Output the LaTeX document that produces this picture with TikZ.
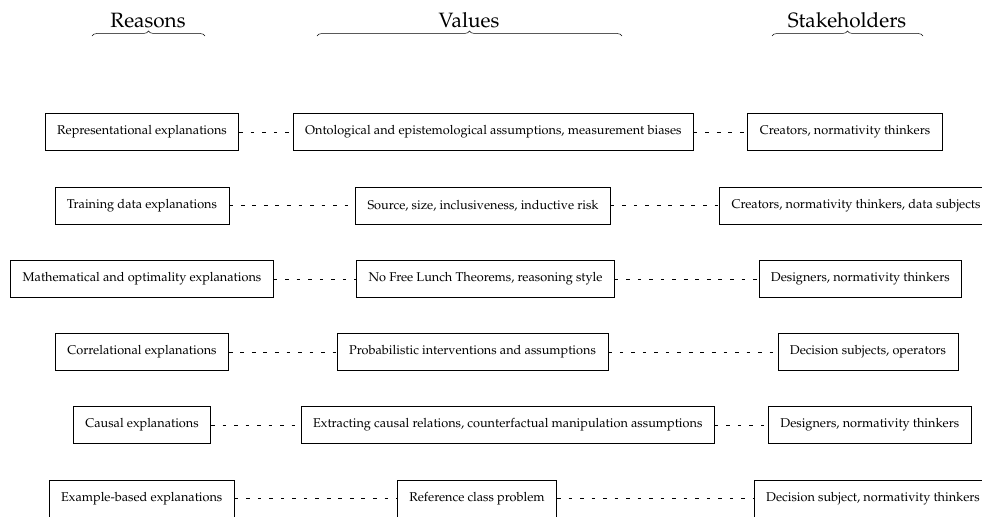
\documentclass[tikz,border=0pt]{standalone}
\usepackage[T1]{fontenc}
\usepackage{mathpazo}
\usetikzlibrary{decorations.pathreplacing}
\begin{document}
\begin{tikzpicture}[
  x=0.8333pt, y=-0.8333pt,
  box/.style={draw, line width=0.6pt, inner xsep=10pt, minimum height=30.8pt,
    font=\fontsize{10.6}{12.7}\selectfont},
  link/.style={dash pattern=on 3pt off 6.6pt},
  head/.style={font=\LARGE, anchor=base},
  curly/.style={decorate, decoration={brace, amplitude=4.2pt}}
]
  \useasboundingbox (0,0) rectangle (982,516);
  % headings
  \coordinate (rl) at (92,36);  \coordinate (rr) at (205,36);
  \coordinate (vl) at (317,36); \coordinate (vr) at (622,36);
  \coordinate (sl) at (772,36); \coordinate (sr) at (923,36);
  \draw[curly] (rl) -- (rr);
  \draw[curly] (vl) -- (vr);
  \draw[curly] (sl) -- (sr);
  \node[head] (reasons) at (148,27) {Reasons};
  \node[head] (values) at (469,27) {Values};
  \node[head] (holders) at (847,27) {Stakeholders};
  % rows
  \node[box] (r1) at (142,132) {Representational explanations};
  \node[box] (v1) at (493.3,132) {Ontological and epistemological assumptions, measurement biases};
  \node[box] (s1) at (845,132) {Creators, normativity thinkers};
  \node[box] (r2) at (142,205.7) {Training data explanations};
  \node[box] (v2) at (483,205.7) {Source, size, inclusiveness, inductive risk};
  \node[box] (s2) at (856,205.7) {Creators, normativity thinkers, data subjects};
  \node[box] (r3) at (142,279) {Mathematical and optimality explanations};
  \node[box] (v3) at (485.5,279) {No Free Lunch Theorems, reasoning style};
  \node[box] (s3) at (860.3,279) {Designers, normativity thinkers};
  \node[box] (r4) at (142,352) {Correlational explanations};
  \node[box] (v4) at (472.5,352) {Probabilistic interventions and assumptions};
  \node[box] (s4) at (868,352) {Decision subjects, operators};
  \node[box] (r5) at (142,425) {Causal explanations};
  \node[box] (v5) at (507.8,425) {Extracting causal relations, counterfactual manipulation assumptions};
  \node[box] (s5) at (869.8,425) {Designers, normativity thinkers};
  \node[box] (r6) at (141.8,498.5) {Example-based explanations};
  \node[box] (v6) at (477,498.5) {Reference class problem};
  \node[box] (s6) at (873,498.5) {Decision subject, normativity thinkers};
  \foreach \i in {1,...,6} {
    \draw[link] (r\i) -- (v\i);
    \draw[link] (v\i) -- (s\i);
  }
\end{tikzpicture}
\end{document}
